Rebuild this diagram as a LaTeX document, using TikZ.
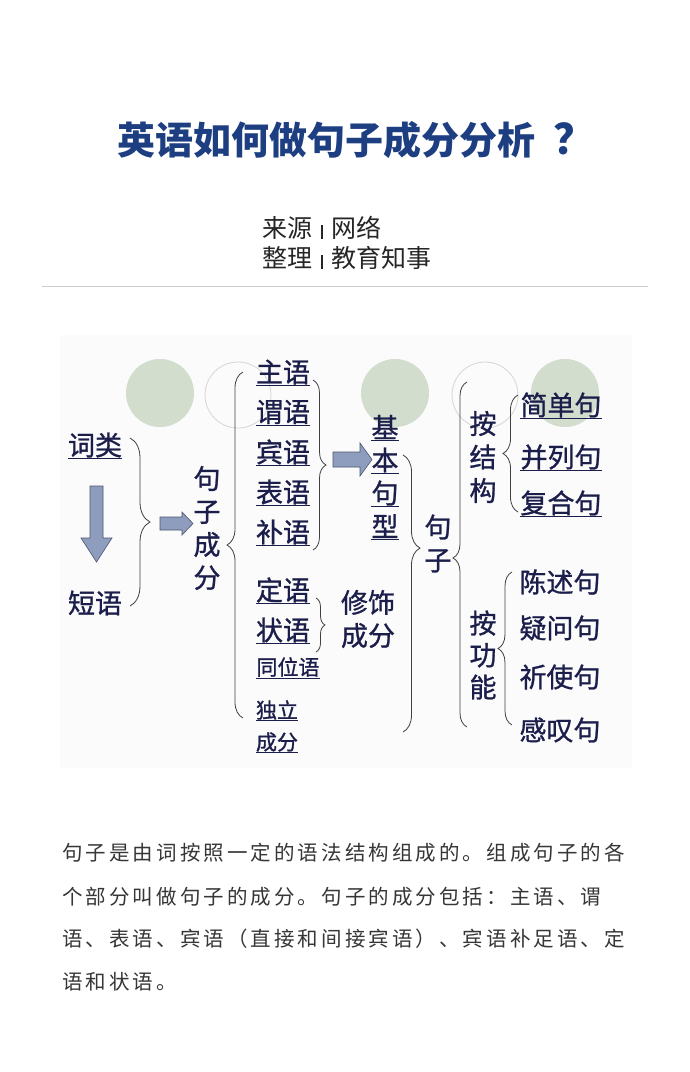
\documentclass[tikz,border=0pt]{standalone}
\usepackage{fontspec}
\setmainfont{Noto Sans CJK SC}
\newfontfamily\bodyfont[LetterSpace=15]{Noto Sans CJK SC}
\newfontfamily\diagfont[FakeBold=1]{Noto Sans CJK SC}
\usetikzlibrary{decorations.pathreplacing}

\definecolor{titleblue}{HTML}{1D3F82}
\definecolor{ink}{HTML}{1B1E4B}
\definecolor{sage}{HTML}{D2DDCD}
\definecolor{ringgray}{HTML}{D6D6D6}
\definecolor{arrowfill}{HTML}{8E9DBE}
\definecolor{arrowline}{HTML}{4A5570}
\definecolor{bodygray}{HTML}{363636}
\definecolor{panel}{HTML}{FBFBFB}

\newcommand\srcbar{\hspace{9pt}\rule[-1pt]{1.3pt}{14pt}\hspace{9pt}}

\tikzset{
	word/.style={text=ink, inner xsep=0pt, inner ysep=1pt, font=\diagfont\fontsize{27}{27}\selectfont},
	smallword/.style={word, font=\diagfont\fontsize{21}{21}\selectfont},
	stack/.style={word, align=center, font=\diagfont\fontsize{27}{33}\selectfont},
	ul/.style={append after command={(\tikzlastnode.south west) edge[draw=ink, line width=0.9pt] (\tikzlastnode.south east)}},
	curly/.style={decorate, decoration={brace, amplitude=#1}, draw=black!75, line width=0.8pt},
	curlyat/.style 2 args={decorate, decoration={brace, amplitude=#1, aspect=#2}, draw=black!75, line width=0.8pt},
	blockarrow/.style={fill=arrowfill, draw=arrowline, line width=0.6pt, line join=miter},
	dot/.style={fill=sage},
	ring/.style={draw=ringgray, line width=0.8pt},
	body/.style={anchor=west, inner sep=0pt, text=bodygray, font=\bodyfont\fontsize{20.5}{20.5}\selectfont},
}

\begin{document}
\begin{tikzpicture}[x=1pt, y=-1pt]
	\useasboundingbox (0,0) rectangle (690,1072);
	\fill[white] (0,0) rectangle (690,1072);

	% heading
	\node[anchor=west, inner sep=0pt, font=\fontsize{38}{38}\selectfont\bfseries, text=titleblue] (title) at (117,140) {英语如何做句子成分分析\hspace{18pt}{\fontsize{42}{42}\selectfont ？}};
	\node[anchor=west, inner sep=0pt, text=black!85, font=\fontsize{25}{25}\selectfont] (source) at (262,228) {来源\srcbar 网络};
	\node[anchor=west, inner sep=0pt, text=black!85, font=\fontsize{25}{25}\selectfont] (editor) at (262,258) {整理\srcbar 教育知事};
	\draw[black!20, line width=1pt] (42,286) -- (648,286);

	% diagram panel
	\fill[panel] (60,335) rectangle (632,768);
	\fill[dot] (160,393) circle (34);
	\draw[ring] (238,395) circle (33);
	\fill[dot] (395,393) circle (34);
	\draw[ring] (485,395) circle (33);
	\fill[dot] (565,393) circle (34);

	% words and phrases
	\node[word, ul] (cilei) at (95,445) {词类};
	\node[word] (duanyu) at (95,603) {短语};
	\draw[blockarrow] (90,486) -- (103,486) -- (103,538) -- (112,538) -- (96.5,562) -- (81,538) -- (90,538) -- cycle;
	\draw[curly=20] (130,438) -- (130,606);
	\draw[blockarrow] (160,517) -- (182,517) -- (182,512) -- (193,523.5) -- (182,535) -- (182,530) -- (160,530) -- cycle;

	% sentence elements
	\node[stack] (chengfen) at (207,528) {句\\子\\成\\分};
	\draw[curly=16] (243,718) -- (243,372);
	\node[word, ul] (zhuyu) at (283,372) {主语};
	\node[word, ul] (weiyu) at (283,412) {谓语};
	\node[word, ul] (binyu) at (283,452) {宾语};
	\node[word, ul] (biaoyu) at (283,492) {表语};
	\node[word, ul] (buyu) at (283,532) {补语};
	\draw[curly=13] (313,380) -- (313,550);
	\draw[blockarrow] (333,452) -- (360,452) -- (360,443) -- (372,459.5) -- (360,476) -- (360,467) -- (333,467) -- cycle;
	\foreach \ch [count=\i] in {基,本,句,型}
		\node[word, ul] (jiben\i) at (385,394+33*\i) {\ch};

	\node[word, ul] (dingyu) at (283,590) {定语};
	\node[word, ul] (zhuangyu) at (283,630) {状语};
	\draw[curly=9] (316,598) -- (316,652);
	\node[stack] (xiushi) at (368,619) {修饰\\成分};
	\node[smallword, ul] (tongwei) at (288,667) {同位语};
	\node[smallword, ul] (duli) at (277,710) {独立};
	\node[smallword, ul] (dulicf) at (277,742) {成分};

	% sentence kinds
	\draw[curlyat={17}{0.336}] (403,455) -- (403,732);
	\node[stack] (juzi) at (438,543.5) {句\\子};
	\draw[curlyat={14}{0.49}] (467,727) -- (467,382);
	\node[word, align=center, font=\diagfont\fontsize{27}{33.5}\selectfont] (jiegou) at (483,457) {按\\结\\构};
	\draw[curly=15] (518,512) -- (518,395);
	\node[word, ul] (jiandan) at (561,405) {简单句};
	\node[word, ul] (binglie) at (561,457) {并列句};
	\node[word, ul] (fuhe) at (561,503) {复合句};

	\node[word, align=center, font=\diagfont\fontsize{27}{32}\selectfont] (gongneng) at (483,655) {按\\功\\能};
	\draw[curly=14] (512,725) -- (512,572);
	\node[word] (chenshu) at (560,582) {陈述句};
	\node[word] (yiwen) at (560,628) {疑问句};
	\node[word] (qishi) at (560,677) {祈使句};
	\node[word] (gantan) at (560,730) {感叹句};

	% explanation
	\node[body] (line1) at (62,853) {句子是由词按照一定的语法结构组成的。组成句子的各};
	\node[body] (line2) at (62,897) {个部分叫做句子的成分。句子的成分包括：主语、谓};
	\node[body] (line3) at (62,939) {语、表语、宾语（直接和间接宾语）、宾语补足语、定};
	\node[body] (line4) at (62,982) {语和状语。};
\end{tikzpicture}
\end{document}
